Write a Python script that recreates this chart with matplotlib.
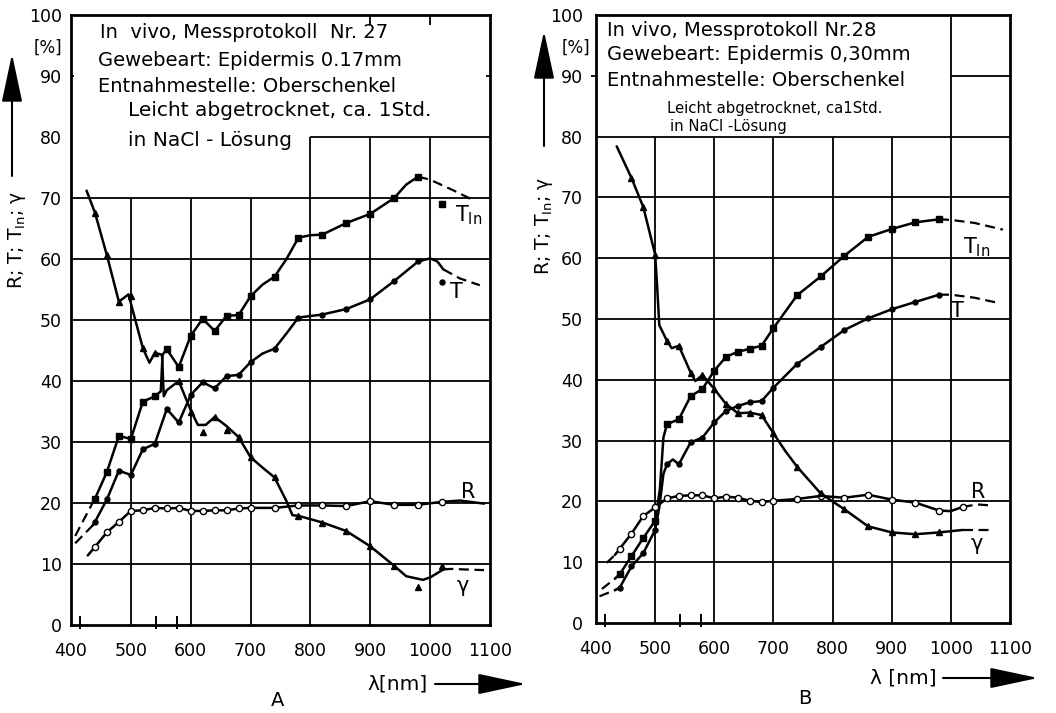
import matplotlib
matplotlib.use('Agg')
import matplotlib.pyplot as plt
from matplotlib.patches import FancyArrowPatch

plt.rcParams['font.family'] = ['DejaVu Sans']
plt.rcParams['mathtext.default'] = 'regular'

W, H = 1056, 713

# ---------------- panel A (Messprotokoll Nr. 27) ----------------
A_R_x = [440, 460, 480, 500, 520, 540, 560, 580, 600, 620, 640, 660, 680, 700,
         740, 780, 820, 860, 900, 940, 980, 1020]
A_R_y = [12.8, 15.2, 16.9, 18.7, 18.8, 19.2, 19.1, 19.2, 18.7, 18.7, 18.8, 18.8, 19.1, 19.2,
         19.2, 19.6, 19.6, 19.5, 20.3, 19.7, 19.7, 20.2]
A_R_line_x = [428] + A_R_x + [1050, 1090]
A_R_line_y = [11.4] + A_R_y + [20.4, 19.9]

A_Tin_x = [440, 460, 480, 500, 520, 540, 560, 580, 600, 620, 640, 660, 680, 700,
           740, 780, 820, 860, 900, 940, 980, 1020]
A_Tin_y = [20.7, 25.1, 31.0, 30.5, 36.6, 37.5, 45.2, 42.3, 47.4, 50.2, 48.2, 50.7, 50.8, 53.9,
           57.1, 63.5, 64.0, 65.9, 67.4, 70.0, 73.5, 69.0]
A_Tin_line_x = [436, 440, 460, 480, 500, 520, 540, 550, 553, 560, 580, 600, 620, 640, 660, 680,
                700, 720, 740, 760, 780, 800, 820, 860, 900, 940, 960, 980]
A_Tin_line_y = [20.0, 20.7, 25.1, 31.0, 30.5, 36.6, 37.5, 38.3, 44.3, 45.2, 42.3, 47.4, 50.2, 48.2,
                50.7, 50.8, 53.9, 55.8, 57.1, 60.0, 63.5, 63.9, 64.0, 65.9, 67.4, 70.0, 72.2, 73.5]
A_Tin_head_x = [407, 436]
A_Tin_head_y = [14.6, 20.0]
A_Tin_tail_x = [980, 1000, 1040, 1075]
A_Tin_tail_y = [73.5, 73.0, 71.2, 69.5]

A_T_x = [440, 460, 480, 500, 520, 540, 560, 580, 600, 620, 640, 660, 680, 700,
         740, 780, 820, 860, 900, 940, 980, 1020]
A_T_y = [16.9, 20.6, 25.3, 24.6, 28.8, 29.7, 35.4, 33.2, 37.7, 39.8, 38.8, 40.8, 41.0, 43.1,
         45.3, 50.4, 50.9, 51.8, 53.4, 56.4, 59.6, 56.2]
A_T_line_x = [436, 440, 460, 480, 500, 520, 540, 560, 580, 600, 620, 640, 660, 680, 700, 720,
              740, 760, 780, 820, 860, 900, 940, 980, 1000, 1012, 1022]
A_T_line_y = [16.3, 16.9, 20.6, 25.3, 24.6, 28.8, 29.7, 35.4, 33.2, 37.7, 39.8, 38.8, 40.8, 41.0,
              43.1, 44.5, 45.3, 47.8, 50.4, 50.9, 51.8, 53.4, 56.4, 59.6, 60.1, 59.6, 58.3]
A_T_head_x = [407, 436]
A_T_head_y = [13.4, 16.3]
A_T_tail_x = [1022, 1050, 1083]
A_T_tail_y = [58.3, 56.8, 55.7]

A_G_x = [440, 460, 480, 500, 520, 540, 580, 600, 620, 640, 660, 680, 700,
         740, 780, 820, 860, 900, 940, 980, 1020]
A_G_y = [67.6, 60.6, 53.0, 54.0, 45.4, 44.6, 40.0, 35.0, 31.6, 34.1, 31.9, 30.8, 27.5,
         24.2, 17.9, 16.8, 15.4, 12.9, 9.7, 6.3, 9.6]
A_G_line_x = [426, 440, 460, 480, 496, 520, 531, 540, 552, 555, 560, 580, 600, 612, 625, 640,
              660, 680, 700, 720, 740, 760, 770, 780, 820, 860, 900, 940, 960, 988, 1000, 1022]
A_G_line_y = [71.2, 67.6, 60.6, 53.0, 54.2, 45.4, 43.0, 44.6, 44.3, 37.5, 38.5, 40.0, 35.2, 32.8,
              32.8, 34.1, 32.6, 30.8, 27.5, 25.8, 24.2, 20.3, 18.0, 17.9, 16.8, 15.4, 12.9, 9.7,
              8.0, 7.4, 7.8, 9.1]
A_G_tail_x = [1022, 1035, 1060, 1090]
A_G_tail_y = [9.1, 9.2, 9.1, 9.0]

# ---------------- panel B (Messprotokoll Nr. 28) ----------------
B_R_x = [440, 460, 480, 500, 520, 540, 560, 580, 600, 620, 640, 660, 680, 700,
         740, 780, 820, 860, 900, 940, 980, 1020]
B_R_y = [12.2, 14.7, 17.6, 19.0, 20.5, 20.9, 21.0, 21.0, 20.5, 20.8, 20.6, 20.1, 19.9, 20.1,
         20.4, 20.9, 20.6, 21.1, 20.3, 19.8, 18.5, 19.1]
B_R_line_x = [432] + B_R_x[:-1] + [1000, 1020]
B_R_line_y = [11.2] + B_R_y[:-1] + [18.4, 19.1]
B_R_head_x = [418, 430]
B_R_head_y = [9.9, 11.0]
B_R_tail_x = [1020, 1045, 1072]
B_R_tail_y = [19.1, 19.5, 19.3]

B_Tin_x = [440, 460, 480, 500, 520, 540, 560, 580, 600, 620, 640, 660, 680, 700,
           740, 780, 820, 860, 900, 940, 980]
B_Tin_y = [8.0, 11.0, 14.0, 16.8, 32.7, 33.5, 37.3, 38.5, 41.5, 43.8, 44.6, 45.1, 45.6, 48.5,
           53.9, 57.0, 60.4, 63.5, 64.8, 65.9, 66.4]
B_Tin_line_x = [432, 440, 460, 480, 500, 508, 514, 520, 540, 560, 580, 600, 620, 640, 660, 680,
                700, 740, 780, 820, 860, 900, 940, 980]
B_Tin_line_y = [7.3, 8.0, 11.0, 14.0, 16.8, 22.0, 30.5, 32.7, 33.5, 37.3, 38.5, 41.5, 43.8, 44.6,
                45.1, 45.6, 48.5, 53.9, 57.0, 60.4, 63.5, 64.8, 65.9, 66.4]
B_Tin_head_x = [410, 432]
B_Tin_head_y = [5.6, 7.3]
B_Tin_tail_x = [980, 1000, 1040, 1088]
B_Tin_tail_y = [66.4, 66.3, 65.8, 64.7]

B_T_x = [440, 460, 480, 500, 520, 540, 560, 580, 600, 620, 640, 660, 680, 700,
         740, 780, 820, 860, 900, 940, 980]
B_T_y = [5.8, 9.3, 11.5, 15.3, 26.1, 26.1, 29.7, 30.5, 33.0, 34.9, 35.7, 36.3, 36.5, 38.7,
         42.6, 45.4, 48.2, 50.1, 51.6, 52.8, 54.0]
B_T_line_x = [432, 440, 460, 480, 500, 507, 514, 520, 530, 540, 560, 580, 600, 620, 640, 660,
              680, 700, 740, 780, 820, 860, 900, 940, 980]
B_T_line_y = [5.4, 5.8, 9.3, 11.5, 15.3, 19.0, 24.5, 26.1, 26.9, 26.1, 29.7, 30.5, 33.0, 34.9,
              35.7, 36.3, 36.5, 38.7, 42.6, 45.4, 48.2, 50.1, 51.6, 52.8, 54.0]
B_T_head_x = [406, 432]
B_T_head_y = [4.4, 5.4]
B_T_tail_x = [980, 1000, 1040, 1082]
B_T_tail_y = [54.0, 54.0, 53.5, 52.6]

B_G_x = [460, 480, 500, 520, 540, 560, 580, 600, 620, 640, 660, 680, 700,
         740, 780, 820, 860, 900, 940, 980]
B_G_y = [73.2, 68.4, 60.6, 46.4, 45.6, 41.2, 40.8, 38.5, 36.0, 34.5, 34.6, 34.2, 31.2,
         25.7, 21.3, 18.7, 15.9, 14.9, 14.6, 14.9]
B_G_line_x = [435, 460, 480, 500, 503, 507, 520, 528, 540, 560, 568, 580, 600, 620, 640, 660,
              680, 700, 720, 740, 780, 820, 860, 900, 940, 980, 1020]
B_G_line_y = [78.4, 73.2, 68.4, 60.6, 56.0, 49.0, 46.4, 45.2, 45.6, 41.2, 39.8, 40.8, 38.5, 36.0,
              34.5, 34.6, 34.2, 31.2, 28.3, 25.7, 21.3, 18.7, 15.9, 14.9, 14.6, 14.9, 15.3]
B_G_tail_x = [1020, 1045, 1072]
B_G_tail_y = [15.3, 15.3, 15.3]

# hemoglobin marks on the wavelength axis
hb_marks = [415, 542, 577]

x_ticks = [400, 500, 600, 700, 800, 900, 1000, 1100]
y_ticks = [0, 10, 20, 30, 40, 50, 60, 70, 80, 90, 100]

LW = 1.8
DASH = (0, (4.5, 2.5))


def px(x, y):
    # figure pixel (from top-left) -> figure fraction
    return x / W, 1 - y / H


def curve(ax, lx, ly, mx, my, marker, ms, mfc='k', head=None, tail=None):
    ax.plot(lx, ly, color='k', lw=LW, zorder=3, solid_capstyle='round')
    for seg in (head, tail):
        if seg is not None:
            ax.plot(seg[0], seg[1], color='k', lw=1.6, ls=DASH, zorder=3)
    ax.plot(mx, my, ls='none', marker=marker, ms=ms, mfc=mfc, mec='k', mew=1.0, zorder=4)


def frame(ax, ypad):
    ax.set_xlim(400, 1100)
    ax.set_ylim(0, 100)
    ax.set_xticks(x_ticks)
    ax.set_yticks(y_ticks)
    ax.tick_params(length=0, labelsize=12.5)
    ax.tick_params(axis='x', pad=12)
    ax.tick_params(axis='y', pad=ypad)
    for sp in ax.spines.values():
        sp.set_linewidth(2)
        sp.set_zorder(5)
    ax.vlines(hb_marks, -0.6, 1.4, color='k', lw=1.4, clip_on=False, zorder=5)


fig = plt.figure(figsize=(W / 100, H / 100), dpi=100)
axA = fig.add_axes([71 / W, 1 - 625 / H, 419 / W, 610 / H])
axB = fig.add_axes([596 / W, 1 - 623 / H, 414 / W, 608 / H])

g = dict(color='k', lw=1.3, zorder=1)

# ---- A
frame(axA, 6.5)
axA.hlines([10, 20, 30, 40, 50, 60, 70], 400, 1100, **g)
axA.hlines(80, 800, 1100, **g)
axA.vlines([500, 600, 700], 0, 70, **g)
axA.vlines([800, 900, 1000], 0, 80, **g)
axA.vlines([900, 1000], 98.3, 100, **g)
axA.hlines(90, 400, 405, **g)
axA.hlines(90, 1094, 1100, **g)

curve(axA, A_R_line_x, A_R_line_y, A_R_x, A_R_y, 'o', 4.5, mfc='white')
curve(axA, A_Tin_line_x, A_Tin_line_y, A_Tin_x, A_Tin_y, 's', 5,
      head=(A_Tin_head_x, A_Tin_head_y), tail=(A_Tin_tail_x, A_Tin_tail_y))
curve(axA, A_T_line_x, A_T_line_y, A_T_x, A_T_y, 'o', 3.6,
      head=(A_T_head_x, A_T_head_y), tail=(A_T_tail_x, A_T_tail_y))
curve(axA, A_G_line_x, A_G_line_y, A_G_x, A_G_y, '^', 5,
      tail=(A_G_tail_x, A_G_tail_y))

lab = dict(fontsize=15, ha='left', va='center', zorder=6)
axA.text(1042, 67.2, 'T$_{In}$', **lab)
axA.text(1033, 54.6, 'T', **lab)
axA.text(1052, 21.8, 'R', **lab)
axA.text(1045, 6.4, 'γ', **lab)
axA.text(386, 94.6, '[%]', fontsize=12, ha='right', va='center', clip_on=False)

# ---- B
frame(axB, 9.5)
axB.hlines([10, 20, 30, 40, 50, 60, 70, 80], 400, 1100, **g)
axB.hlines(90, 1000, 1100, **g)
axB.vlines([500, 600, 700, 800, 900], 0, 80, **g)
axB.vlines(1000, 0, 100, **g)
axB.hlines(90, 392, 400, clip_on=False, **g)

curve(axB, B_R_line_x, B_R_line_y, B_R_x, B_R_y, 'o', 4.5, mfc='white',
      head=(B_R_head_x, B_R_head_y), tail=(B_R_tail_x, B_R_tail_y))
curve(axB, B_Tin_line_x, B_Tin_line_y, B_Tin_x, B_Tin_y, 's', 5,
      head=(B_Tin_head_x, B_Tin_head_y), tail=(B_Tin_tail_x, B_Tin_tail_y))
curve(axB, B_T_line_x, B_T_line_y, B_T_x, B_T_y, 'o', 3.6,
      head=(B_T_head_x, B_T_head_y), tail=(B_T_tail_x, B_T_tail_y))
curve(axB, B_G_line_x, B_G_line_y, B_G_x, B_G_y, '^', 5,
      tail=(B_G_tail_x, B_G_tail_y))

axB.text(1020, 61.8, 'T$_{In}$', **lab)
axB.text(1000, 51.3, 'T', **lab)
axB.text(1034, 21.6, 'R', **lab)
axB.text(1034, 13.0, 'γ', **lab)
axB.text(391, 94.6, '[%]', fontsize=12, ha='right', va='center', clip_on=False)

# ---- texts in the boxes
t1 = dict(fontsize=14, ha='left', va='center')
fig.text(*px(100, 33), 'In  vivo, Messprotokoll  Nr. 27', **t1)
fig.text(*px(98, 60), 'Gewebeart: Epidermis 0.17mm', **t1)
fig.text(*px(98, 86), 'Entnahmestelle: Oberschenkel', **t1)
fig.text(*px(128, 111), 'Leicht abgetrocknet, ca. 1Std.', fontsize=14.5, ha='left', va='center')
fig.text(*px(128, 141), 'in NaCl - Lösung', fontsize=14.5, ha='left', va='center')

fig.text(*px(607, 30), 'In vivo, Messprotokoll Nr.28', **t1)
fig.text(*px(607, 54), 'Gewebeart: Epidermis 0,30mm', **t1)
fig.text(*px(607, 80), 'Entnahmestelle: Oberschenkel', **t1)
t2 = dict(fontsize=10.7, ha='left', va='center')
fig.text(*px(667, 108), 'Leicht abgetrocknet, ca1Std.', **t2)
fig.text(*px(670, 126), 'in NaCl -Lösung', **t2)

# ---- axis titles with arrows
ylab = 'R; T; T$_{In}$; γ'
fig.text(*px(17, 240), ylab, rotation=90, fontsize=13.5, ha='center', va='center')
fig.text(*px(544, 226), ylab, rotation=90, fontsize=13.5, ha='center', va='center')

arr = dict(arrowstyle='-|>,head_length=1.5,head_width=0.32', lw=1.5, color='k',
           mutation_scale=20, shrinkA=0, shrinkB=0)
fig.add_artist(FancyArrowPatch(px(12, 176), px(12, 54), transform=fig.transFigure, **arr))
fig.add_artist(FancyArrowPatch(px(544, 146), px(544, 31), transform=fig.transFigure, **arr))
fig.add_artist(FancyArrowPatch(px(435, 684), px(526, 684), transform=fig.transFigure, **arr))
fig.add_artist(FancyArrowPatch(px(943, 678), px(1038, 678), transform=fig.transFigure, **arr))

fig.text(*px(428, 684), 'λ[nm]', fontsize=14.5, ha='right', va='center')
fig.text(*px(937, 678), 'λ [nm]', fontsize=14.5, ha='right', va='center')

fig.text(*px(278, 701), 'A', fontsize=14, ha='center', va='center')
fig.text(*px(805, 699), 'B', fontsize=14, ha='center', va='center')

fig.savefig('out.png', dpi=100)
